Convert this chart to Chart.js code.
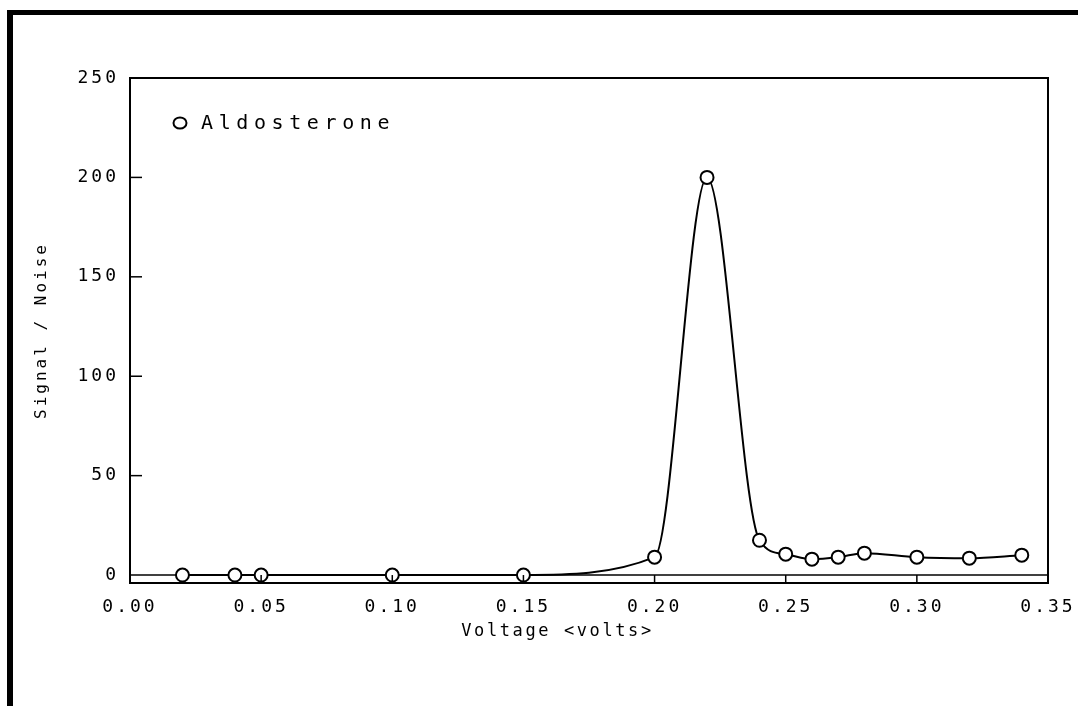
<!DOCTYPE html>
<html>
<head>
<meta charset="utf-8">
<script src="https://cdn.jsdelivr.net/npm/chart.js@4.4.0/dist/chart.umd.min.js"></script>
<style>
html, body { margin: 0; padding: 0; background: #fff; }
#wrap { position: relative; width: 1078px; height: 706px; }
#frame { position: absolute; left: 7px; top: 10px; right: 0; bottom: 0; border-top: 5px solid #000; border-left: 6px solid #000; pointer-events: none; }
</style>
</head>
<body>
<div id="wrap"><canvas id="chart"></canvas><div id="frame"></div></div>
<script>
// --- data ---
const voltage = [0.02, 0.04, 0.05, 0.10, 0.15, 0.20, 0.22, 0.24, 0.25, 0.26, 0.27, 0.28, 0.30, 0.32, 0.34];
const signalNoise = [0, 0, 0, 0, 0, 9, 200, 17.5, 10.5, 8, 9, 11, 9, 8.5, 10];
const xTicks = [0, 0.05, 0.10, 0.15, 0.20, 0.25, 0.30, 0.35];
const yTicks = [0, 50, 100, 150, 200, 250];
const seriesName = 'Aldosterone';
const xTitle = 'Voltage <volts>';
const yTitle = 'Signal / Noise';

const MONO = "'DejaVu Sans Mono', 'Liberation Mono', monospace";

// frame, zero line, inward ticks, legend, x title (sits left of centre in the original)
const plotterLook = {
    id: 'plotterLook',
    beforeDraw(chart) { chart.ctx.letterSpacing = '3px'; },
    beforeDatasetsDraw(chart) {
        const { ctx, chartArea: a, scales: { y } } = chart;
        const y0 = y.getPixelForValue(0);
        ctx.save();
        ctx.strokeStyle = '#000'; ctx.lineWidth = 1.5;
        ctx.beginPath(); ctx.moveTo(a.left, y0); ctx.lineTo(a.right, y0); ctx.stroke();
        ctx.restore();
    },
    afterDatasetsDraw(chart) {
        const { ctx, chartArea: a, scales: { x, y } } = chart;
        ctx.save();
        ctx.strokeStyle = '#000'; ctx.lineWidth = 2;
        ctx.strokeRect(a.left, a.top, a.right - a.left, a.bottom - a.top);
        ctx.lineWidth = 1.5;
        const y0 = y.getPixelForValue(0);
        xTicks.slice(1, -1).forEach(v => {
            const px = x.getPixelForValue(v);
            ctx.beginPath(); ctx.moveTo(px, a.bottom); ctx.lineTo(px, y0); ctx.stroke();
        });
        yTicks.slice(1, -1).forEach(v => {
            const py = y.getPixelForValue(v);
            ctx.beginPath(); ctx.moveTo(a.left, py); ctx.lineTo(a.left + 12, py); ctx.stroke();
        });
        // legend
        ctx.lineWidth = 2; ctx.fillStyle = '#fff';
        ctx.beginPath(); ctx.ellipse(a.left + 50, a.top + 45, 6.5, 5.5, 0, 0, Math.PI * 2); ctx.fill(); ctx.stroke();
        ctx.fillStyle = '#000';
        ctx.textBaseline = 'middle';
        ctx.letterSpacing = '5.6px';
        ctx.font = `20px ${MONO}`;
        ctx.fillText(seriesName, a.left + 71, a.top + 46);
        // x axis title
        ctx.letterSpacing = '2.6px';
        ctx.font = `17px ${MONO}`;
        ctx.textAlign = 'center';
        ctx.fillText(xTitle, x.getPixelForValue(0.163), a.bottom + 49);
        ctx.restore();
    }
};

const ctx = document.getElementById('chart').getContext('2d');
const chart = new Chart(ctx, {
    type: 'line',
    data: {
        datasets: [{
            label: seriesName,
            data: voltage.map((v, i) => ({ x: v, y: signalNoise[i] })),
            borderColor: '#000', borderWidth: 2,
            backgroundColor: '#fff',
            pointRadius: 6.5, pointBorderWidth: 2, pointBorderColor: '#000', pointBackgroundColor: '#fff',
            cubicInterpolationMode: 'monotone',
            fill: false
        }]
    },
    options: {
        responsive: true, maintainAspectRatio: false, animation: false,
        layout: { padding: { top: 78, right: 30, left: 0, bottom: 0 } },
        plugins: { legend: { display: false }, tooltip: { enabled: false } },
        scales: {
            x: {
                type: 'linear', min: 0, max: 0.35,
                afterBuildTicks: s => { s.ticks = xTicks.map(v => ({ value: v })); },
                afterFit: s => { s.height = 123; s.paddingLeft = 0; s.paddingRight = 0; },
                grid: { display: false }, border: { display: false },
                ticks: { color: '#000', padding: 6, maxRotation: 0, font: { family: MONO, size: 18 }, callback: v => v.toFixed(2) },
                title: { display: false }
            },
            y: {
                min: -4, max: 250,
                afterBuildTicks: s => { s.ticks = yTicks.map(v => ({ value: v })); },
                afterFit: s => { s.width = 130; },
                grid: { display: false }, border: { display: false },
                ticks: { color: '#000', padding: 3, font: { family: MONO, size: 18 } },
                title: { display: true, text: yTitle, color: '#000', font: { family: MONO, size: 16 }, padding: { top: 32, bottom: 0 } }
            }
        }
    },
    plugins: [plotterLook]
});
</script>
</body>
</html>
